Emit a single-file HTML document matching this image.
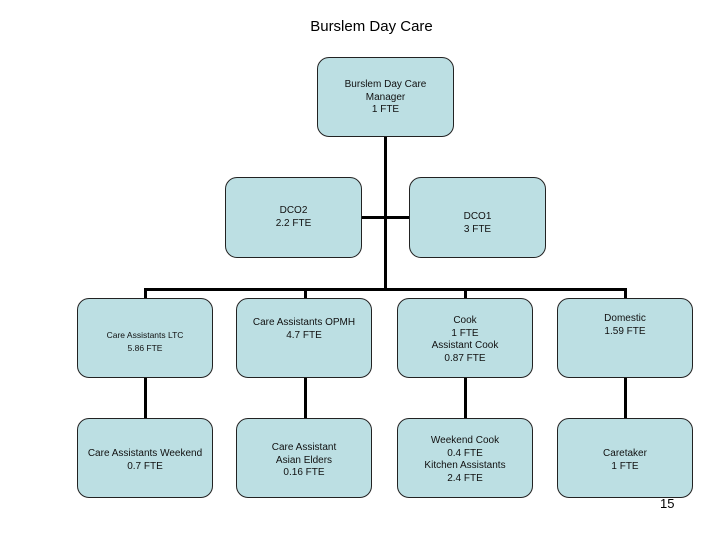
<!DOCTYPE html>
<html><head><style>
body{margin:0;width:720px;height:540px;background:#fff;position:relative;font-family:"Liberation Sans",sans-serif;overflow:hidden}
.b{position:absolute;background:#bcdfe3;border:1px solid #222;border-radius:12px;box-sizing:border-box;font-size:10px;color:#111;display:flex;justify-content:center;text-align:center;line-height:12.5px}
.l{position:absolute;background:#000}
</style></head><body>
<div style="position:absolute;top:18px;left:0;width:743px;text-align:center;font-size:15px">Burslem Day Care</div>
<div class="l" style="left:384px;top:137px;width:3px;height:154px"></div>
<div class="l" style="left:362px;top:216px;width:47px;height:3px"></div>
<div class="l" style="left:144px;top:288px;width:483px;height:3px"></div>
<div class="l" style="left:144px;top:288px;width:3px;height:130px"></div>
<div class="l" style="left:304px;top:288px;width:3px;height:130px"></div>
<div class="l" style="left:464px;top:288px;width:3px;height:130px"></div>
<div class="l" style="left:624px;top:288px;width:3px;height:130px"></div>
<div class="b" style="left:317px;top:57px;width:137px;height:80px;padding-top:21px">Burslem Day Care<br>Manager<br>1 FTE</div>
<div class="b" style="left:225px;top:177px;width:137px;height:81px;padding-top:27px">DCO2<br>2.2 FTE</div>
<div class="b" style="left:409px;top:177px;width:137px;height:81px;padding-top:33px">DCO1<br>3 FTE</div>
<div class="b" style="left:77px;top:298px;width:136px;height:80px;padding-top:30px;font-size:8.5px">Care Assistants LTC<br>5.86 FTE</div>
<div class="b" style="left:236px;top:298px;width:136px;height:80px;padding-top:18px">Care Assistants OPMH<br>4.7 FTE</div>
<div class="b" style="left:397px;top:298px;width:136px;height:80px;padding-top:16px">Cook<br>1 FTE<br>Assistant Cook<br>0.87 FTE</div>
<div class="b" style="left:557px;top:298px;width:136px;height:80px;padding-top:14px">Domestic<br>1.59 FTE</div>
<div class="b" style="left:77px;top:418px;width:136px;height:80px;padding-top:29px">Care Assistants Weekend<br>0.7 FTE</div>
<div class="b" style="left:236px;top:418px;width:136px;height:80px;padding-top:23px">Care Assistant<br>Asian Elders<br>0.16 FTE</div>
<div class="b" style="left:397px;top:418px;width:136px;height:80px;padding-top:16px">Weekend Cook<br>0.4 FTE<br>Kitchen Assistants<br>2.4 FTE</div>
<div class="b" style="left:557px;top:418px;width:136px;height:80px;padding-top:29px">Caretaker<br>1 FTE</div>
<div style="position:absolute;left:660px;top:496px;font-size:13px">15</div>
</body></html>
